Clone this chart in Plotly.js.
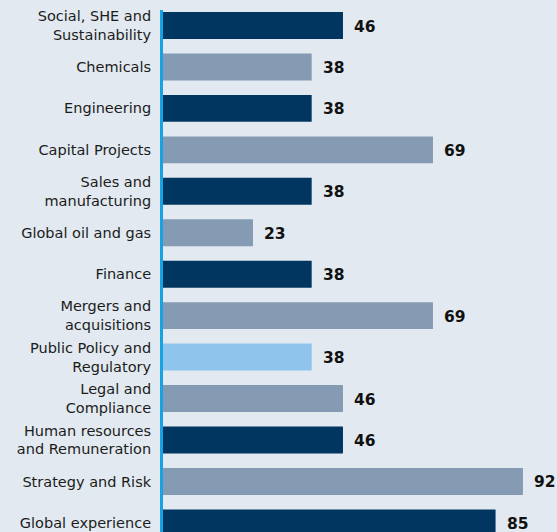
<!DOCTYPE html>
<html>
<head>
<meta charset="utf-8">
<script src="https://cdn.plot.ly/plotly-3.0.1.min.js"></script>
<style>html,body{margin:0;padding:0;background:#e2e9f0;}#chart{width:557px;height:532px;}</style>
</head>
<body>
<div id="chart"></div>
<script>
const categories = [
  "Social, SHE and<br>Sustainability",
  "Chemicals",
  "Engineering",
  "Capital Projects",
  "Sales and<br>manufacturing",
  "Global oil and gas",
  "Finance",
  "Mergers and<br>acquisitions",
  "Public Policy and<br>Regulatory",
  "Legal and<br>Compliance",
  "Human resources<br>and Remuneration",
  "Strategy and Risk",
  "Global experience"
];
const values = [46, 38, 38, 69, 38, 23, 38, 69, 38, 46, 46, 92, 85];
const NAVY = "#003660", GREY = "#849bb3", LIGHT = "#8fc5ed";
const barColors = [NAVY, GREY, NAVY, GREY, NAVY, GREY, NAVY, GREY, LIGHT, GREY, NAVY, GREY, NAVY];

const trace = {
  type: "bar",
  orientation: "h",
  y: categories,
  x: values,
  marker: {color: barColors},
  hoverinfo: "none"
};

const annotations = values.map((v, i) => ({
  x: v, y: categories[i], xref: "x", yref: "y",
  text: "<b>" + v + "</b>", showarrow: false,
  xanchor: "left", xshift: 9, yshift: -1,
  font: {family: "DejaVu Sans, sans-serif", size: 15.5, color: "#111111"}
}));

const layout = {
  width: 557, height: 532,
  margin: {l: 163, r: 0, t: 10, b: 0},
  paper_bgcolor: "#e2e9f0",
  plot_bgcolor: "#e2e9f0",
  bargap: 0.35,
  showlegend: false,
  xaxis: {range: [0, 100.7], showgrid: false, zeroline: false, showticklabels: false, showline: false, fixedrange: true},
  yaxis: {
    type: "category",
    range: [12.22, -0.374],
    showgrid: false, zeroline: false,
    showline: true, linecolor: "#17a2e2", linewidth: 3,
    ticks: "", ticklabelstandoff: 6,
    tickfont: {family: "DejaVu Sans, sans-serif", size: 14.5, color: "#1c1c1c"}
  },
  annotations: annotations
};

Plotly.newPlot("chart", [trace], layout, {displayModeBar: false, staticPlot: true});
</script>
</body>
</html>
